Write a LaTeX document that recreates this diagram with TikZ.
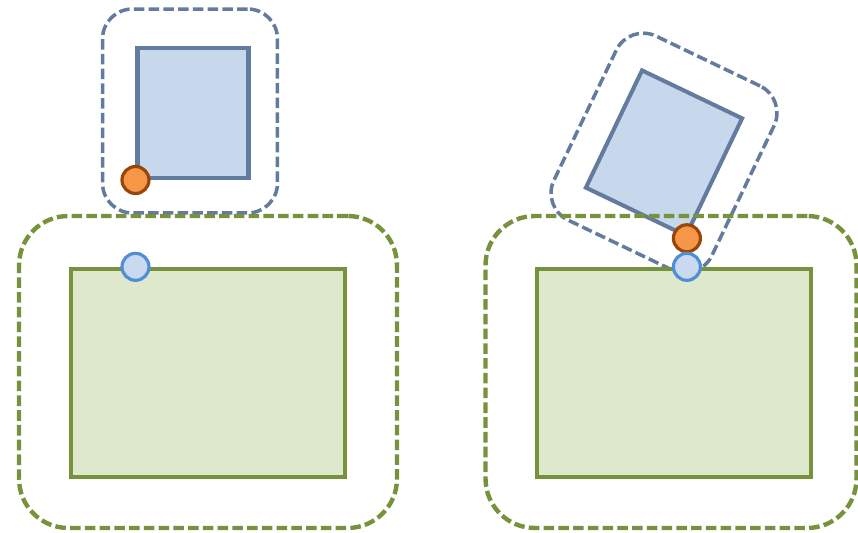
\documentclass[tikz,border=0pt]{standalone}
\usetikzlibrary{positioning, calc}

\definecolor{leafline}{RGB}{118,146,60}
\definecolor{leaffill}{RGB}{222,232,204}
\definecolor{slateline}{RGB}{98,123,158}
\definecolor{slatefill}{RGB}{200,216,236}
\definecolor{pinline}{RGB}{150,70,10}
\definecolor{pinfill}{RGB}{247,150,70}
\definecolor{holeline}{RGB}{80,142,215}
\definecolor{holefill}{RGB}{200,217,240}

\begin{document}
\begin{tikzpicture}[
    x=0.02cm, y=0.02cm,
    zone/.style={rectangle, inner sep=0pt, dash pattern=on 6pt off 2.4pt},
    hostzone/.style={zone, draw=leafline, line width=2.5pt, rounded corners=28pt,
                     minimum height=6.24cm},
    partzone/.style={zone, draw=slateline, line width=2pt, rounded corners=17pt,
                     minimum width=3.5cm, minimum height=4.08cm},
    hostbody/.style={rectangle, inner sep=0pt, draw=leafline, fill=leaffill,
                     line width=2.5pt, minimum width=5.48cm, minimum height=4.16cm},
    partbody/.style={rectangle, inner sep=0pt, draw=slateline, fill=slatefill,
                     line width=2.3pt, minimum width=2.22cm, minimum height=2.6cm},
    pin/.style={circle, inner sep=0pt, minimum size=0.54cm, draw=pinline,
                fill=pinfill, line width=1.8pt},
    hole/.style={circle, inner sep=0pt, minimum size=0.54cm, draw=holeline,
                 fill=holefill, line width=1.8pt},
]
\useasboundingbox (0,0) rectangle (858,-533);

% === LEFT: part apart from host ===

\node[partzone] (zone-part-l) at (190,-111) {};
\node[partbody] (part-l) at (193,-113) {};

\node[hostzone, minimum width=7.56cm] (zone-host-l) at (208,-372) {};
\node[hostbody] (host-l) at (208,-373) {};

\node[pin] (pin-l) at (part-l.south west) {};
\node[hole] (hole-l) at (pin-l |- host-l.north) {};

% === RIGHT: part turned onto host ===

\node[partzone, rotate=-25.6] (zone-part-r) at (664,-153) {};
\node[partbody, rotate=-25.6] (part-r) at (664,-153) {};

\node[hostzone, minimum width=7.42cm] (zone-host-r) at (671,-372) {};
\node[hostbody] (host-r) at (674,-373) {};

\node[pin] (pin-r) at (part-r.south east) {};
\node[hole] (hole-r) at (pin-r |- host-r.north) {};

\end{tikzpicture}
\end{document}
